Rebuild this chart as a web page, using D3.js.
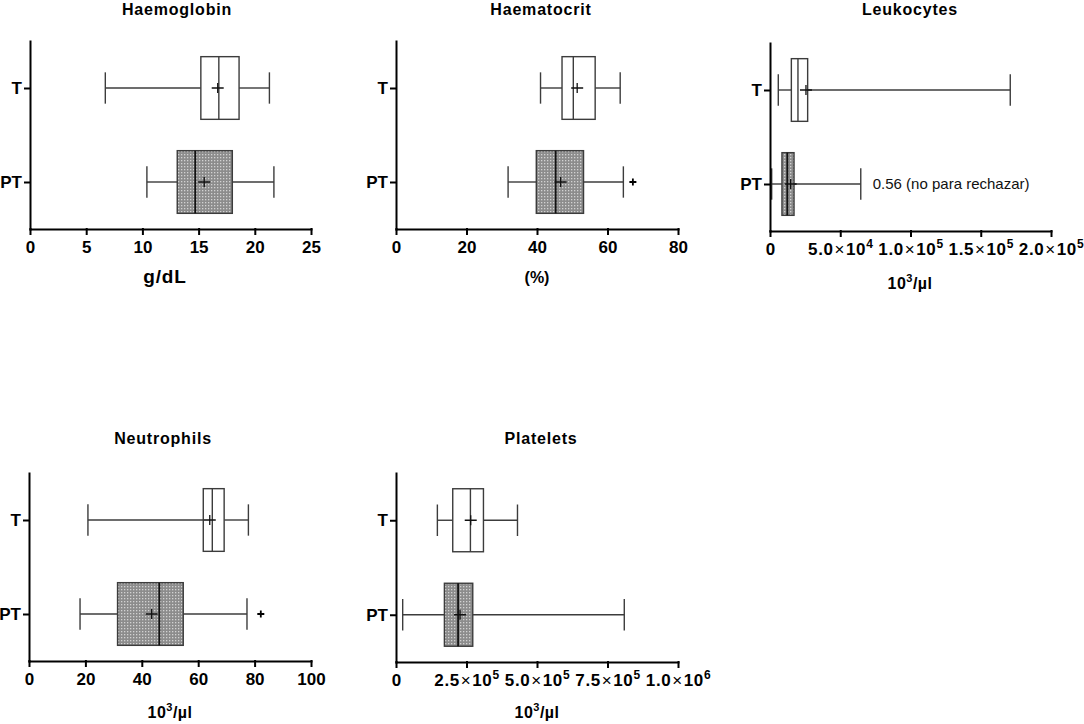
<!DOCTYPE html>
<html lang="en">
<head>
<meta charset="UTF-8">
<title>Haematology box plots</title>
<style>
  body { margin: 0; background: #fff; }
  text { font-family: Arial, "Liberation Sans", sans-serif; }
</style>
</head>
<body>
<script src="https://d3js.org/d3.v7.min.js"></script>
<script>
// groups shown on every panel
var groups = ["T", "PT"];

// five number summaries: [low whisker, Q1, median, Q3, high whisker], one row per group
var hgbBox = [[6.7, 15.2, 16.8, 18.6, 21.3], [10.4, 13.1, 14.7, 18.0, 21.7]];
var hgbMean = [16.7, 15.5];
var hgbOut = [[], []];
var hgbTicks = [0, 5, 10, 15, 20, 25];

var hctBox = [[41.0, 47.1, 50.3, 56.5, 63.6], [31.8, 39.8, 45.3, 53.2, 64.5]];
var hctMean = [51.4, 46.7];
var hctOut = [[], [67.2]];
var hctTicks = [0, 20, 40, 60, 80];

var leuBox = [[5900, 15200, 19900, 26800, 171000], [1200, 8500, 12300, 17100, 64600]];
var leuMean = [25600, 14700];
var leuOut = [[], []];
var leuTicks = [0, 50000, 100000, 150000, 200000];
var leuNote = "0.56 (no para rechazar)";

var neuBox = [[20.9, 61.8, 65.0, 69.2, 77.8], [18.1, 31.4, 46.2, 54.7, 77.3]];
var neuMean = [64.1, 43.5];
var neuOut = [[], [82.2]];
var neuTicks = [0, 20, 40, 60, 80, 100];

var pltBox = [[146700, 201200, 263900, 310100, 430800], [23700, 171600, 220100, 272200, 809500]];
var pltMean = [265000, 227200];
var pltOut = [[], []];
var pltTicks = [0, 250000, 500000, 750000, 1000000];

var svg = d3.select("body").append("svg")
    .attr("width", 1084)
    .attr("height", 724);

// dotted grey fill used by the PT boxes
var pat = svg.append("defs").append("pattern")
    .attr("id", "dots")
    .attr("width", 3).attr("height", 3)
    .attr("patternUnits", "userSpaceOnUse");
pat.append("rect").attr("width", 3).attr("height", 3).attr("fill", "#8c8c8c");
pat.append("rect").attr("x", 1).attr("y", 1).attr("width", 1.3).attr("height", 1.3).attr("fill", "#d2d2d2");

var panels = [
    {title: "Haemoglobin", unit: "g/dL", box: hgbBox, mean: hgbMean, out: hgbOut, ticks: hgbTicks,
     x0: 30, x1: 311, top: 41, bot: 229, titleX: 177, titleY: 15, unitX: 165, unitY: 283, unitSize: 19, unitSpace: 0.8},
    {title: "Haematocrit", unit: "(%)", box: hctBox, mean: hctMean, out: hctOut, ticks: hctTicks,
     x0: 396, x1: 678, top: 41, bot: 229, titleX: 541, titleY: 15, unitX: 537, unitY: 283, unitSize: 16, unitSpace: 0},
    {title: "Leukocytes", unit: "10^3/µl", box: leuBox, mean: leuMean, out: leuOut, ticks: leuTicks,
     x0: 770, x1: 1051, top: 43, bot: 231, titleX: 910, titleY: 15, unitX: 910, unitY: 289, unitSize: 16, unitSpace: 0.5, note: leuNote},
    {title: "Neutrophils", unit: "10^3/µl", box: neuBox, mean: neuMean, out: neuOut, ticks: neuTicks,
     x0: 29, x1: 311, top: 473, bot: 661, titleX: 163, titleY: 444, unitX: 170, unitY: 718, unitSize: 16, unitSpace: 0.5},
    {title: "Platelets", unit: "10^3/µl", box: pltBox, mean: pltMean, out: pltOut, ticks: pltTicks,
     x0: 396, x1: 678, top: 473, bot: 662, titleX: 541, titleY: 444, unitX: 537, unitY: 718, unitSize: 16, unitSpace: 0.5}
];

// writes "5.0×10^4" style labels with a raised exponent
function sciLabel(sel, v) {
    sel.text(null);
    if (v === 0 || v < 10000) { sel.text(v); return; }
    var e = Math.floor(Math.log10(v) + 1e-9);
    var m = (v / Math.pow(10, e)).toFixed(1);
    sel.attr("letter-spacing", "0.6px");
    sel.append("tspan").text(m);
    sel.append("tspan").attr("font-weight", "normal").attr("dx", 1).text("×");
    sel.append("tspan").attr("dx", 1).text("10");
    sel.append("tspan").attr("font-size", "12px").attr("dy", "-7").text(e);
}

function unitLabel(sel, u) {
    var parts = u.split("^");
    if (parts.length == 1) { sel.text(u); return; }
    sel.append("tspan").text(parts[0]);
    sel.append("tspan").attr("font-size", "11px").attr("dy", "-7").text(parts[1].charAt(0));
    sel.append("tspan").attr("dy", "7").text(parts[1].slice(1));
}

panels.forEach(function(p) {
    var x = d3.scaleLinear().domain([p.ticks[0], p.ticks[p.ticks.length - 1]]).range([p.x0, p.x1]);
    var y = d3.scalePoint().domain(groups).range([p.top, p.bot]).padding(0.5);
    var half = y.step() / 3;
    var cap = y.step() / 6;

    var g = svg.append("g");

    // title
    g.append("text").attr("x", p.titleX).attr("y", p.titleY)
        .attr("text-anchor", "middle").attr("font-weight", "bold").attr("font-size", "16px")
        .attr("letter-spacing", "0.8px")
        .text(p.title);

    // boxes
    groups.forEach(function(grp, i) {
        var b = p.box[i], cy = y(grp);
        var stroke = "#3c3c3c";
        // whiskers
        g.append("line").attr("x1", x(b[0])).attr("x2", x(b[1])).attr("y1", cy).attr("y2", cy)
            .attr("stroke", stroke).attr("stroke-width", 1.4);
        g.append("line").attr("x1", x(b[3])).attr("x2", x(b[4])).attr("y1", cy).attr("y2", cy)
            .attr("stroke", stroke).attr("stroke-width", 1.4);
        [b[0], b[4]].forEach(function(v) {
            g.append("line").attr("x1", x(v)).attr("x2", x(v)).attr("y1", cy - cap).attr("y2", cy + cap)
                .attr("stroke", stroke).attr("stroke-width", 1.4);
        });
        g.append("rect")
            .attr("x", x(b[1])).attr("y", cy - half)
            .attr("width", x(b[3]) - x(b[1])).attr("height", 2 * half)
            .attr("fill", i == 0 ? "#fff" : "url(#dots)")
            .attr("stroke", stroke).attr("stroke-width", 1.4);
        g.append("line").attr("x1", x(b[2])).attr("x2", x(b[2])).attr("y1", cy - half).attr("y2", cy + half)
            .attr("stroke", i == 0 ? stroke : "#111").attr("stroke-width", i == 0 ? 1.4 : 1.8);
        // mean
        var mx = x(p.mean[i]);
        g.append("path").attr("d", "M" + (mx - 6) + "," + cy + "H" + (mx + 6) + "M" + mx + "," + (cy - 5) + "V" + (cy + 5))
            .attr("stroke", "#111").attr("stroke-width", 1.3).attr("fill", "none");
        // outliers
        p.out[i].forEach(function(v) {
            var ox = x(v);
            g.append("path").attr("d", "M" + (ox - 3.5) + "," + cy + "H" + (ox + 3.5) + "M" + ox + "," + (cy - 3.5) + "V" + (cy + 3.5))
                .attr("stroke", "#000").attr("stroke-width", 1.8).attr("fill", "none");
        });
    });

    if (p.note) {
        g.append("text").attr("x", x(p.box[1][4]) + 12).attr("y", y("PT") + 5)
            .attr("font-size", "15px").attr("fill", "#111").text(p.note);
    }

    // axes
    var xa = g.append("g").attr("transform", "translate(0," + p.bot + ")")
        .call(d3.axisBottom(x).tickValues(p.ticks).tickSize(5).tickSizeOuter(0).tickPadding(7));
    xa.selectAll(".tick text").each(function(v) { sciLabel(d3.select(this), v); });

    var ya = g.append("g").attr("transform", "translate(" + p.x0 + ",0)")
        .call(d3.axisLeft(y).tickSize(5).tickSizeOuter(0).tickPadding(3));

    [xa, ya].forEach(function(a) {
        a.selectAll("path, line").attr("stroke", "#000").attr("stroke-width", 2).attr("stroke-linecap", "square");
        a.selectAll("text").attr("fill", "#000").attr("font-weight", "bold").attr("font-size", "17px")
            .attr("font-family", "Arial, 'Liberation Sans', sans-serif");
    });

    // unit label
    var ut = g.append("text").attr("x", p.unitX).attr("y", p.unitY)
        .attr("text-anchor", "middle").attr("font-weight", "bold").attr("font-size", p.unitSize + "px")
        .attr("letter-spacing", p.unitSpace + "px");
    unitLabel(ut, p.unit);
});
</script>
</body>
</html>
